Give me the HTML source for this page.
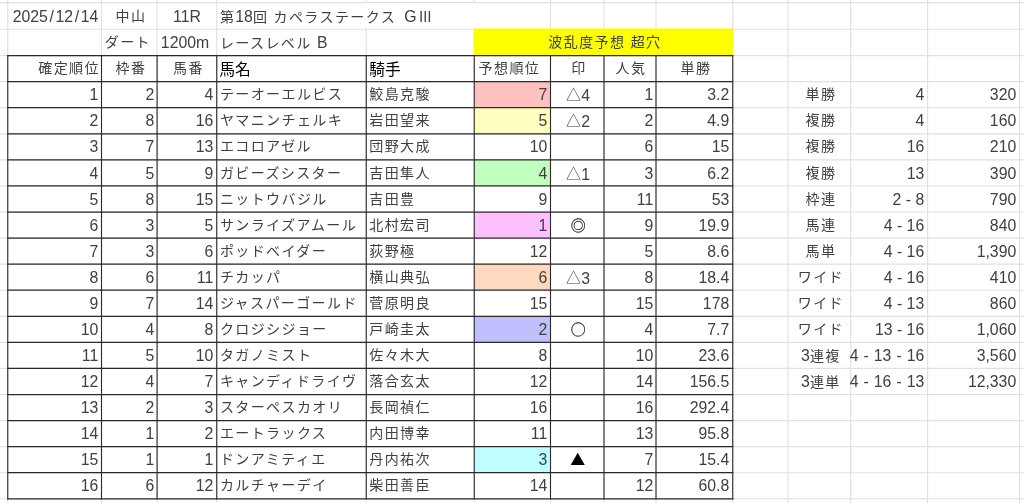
<!DOCTYPE html>
<html lang="ja"><head><meta charset="utf-8"><title>カペラステークス</title>
<style>
html,body{margin:0;padding:0;background:#fff;}
body{width:1024px;height:503px;position:relative;overflow:hidden;font-family:"Liberation Sans","Noto Sans CJK JP",sans-serif;font-size:15.8px;color:#404040;font-weight:400;}
.g{position:absolute;background:#e1e1e1;}
.b{position:absolute;background:#2a2a2a;}
.f{position:absolute;}
.c{position:absolute;white-space:nowrap;box-sizing:border-box;height:25px;line-height:25px;}
.r{text-align:right;padding-right:2.8px;}
.l{text-align:left;padding-left:2.9px;}
.m{text-align:center;}
.k{font-size:14px;letter-spacing:1.4px;}
.m.k{padding-left:2.8px;}
.r.k{padding-right:1.1px;}
.n{font-size:15.8px;letter-spacing:0;}
.j{font-family:"Noto Sans CJK JP","Liberation Sans",sans-serif;}
.big{color:#000;font-size:15.8px;letter-spacing:0;padding-left:2.2px;}
.s{padding:0 1.6px;}
.y{font-size:15px;letter-spacing:0.4px;position:relative;top:-1px;}
.t{-webkit-text-stroke:0.35px #404040;padding-left:1px;}
.w{font-feature-settings:"fwid";}
</style></head><body>

<svg class="f" style="left:0;top:0" width="1024" height="503" viewBox="0 0 1024 503"><g stroke="#e1e1e1" stroke-width="1.15"><line x1="7.75" y1="0" x2="7.75" y2="503"/><line x1="101.50" y1="0" x2="101.50" y2="503"/><line x1="157.10" y1="0" x2="157.10" y2="503"/><line x1="216.75" y1="0" x2="216.75" y2="503"/><line x1="366.25" y1="0" x2="366.25" y2="503"/><line x1="474.25" y1="0" x2="474.25" y2="503"/><line x1="550.50" y1="0" x2="550.50" y2="503"/><line x1="604.00" y1="0" x2="604.00" y2="503"/><line x1="656.00" y1="0" x2="656.00" y2="503"/><line x1="732.75" y1="0" x2="732.75" y2="503"/><line x1="788.00" y1="0" x2="788.00" y2="503"/><line x1="850.75" y1="0" x2="850.75" y2="503"/><line x1="927.60" y1="0" x2="927.60" y2="503"/><line x1="1019.50" y1="0" x2="1019.50" y2="503"/><line x1="0" y1="2.60" x2="1024" y2="2.60"/><line x1="0" y1="29.20" x2="1024" y2="29.20"/><line x1="0" y1="55.60" x2="1024" y2="55.60"/><line x1="0" y1="81.67" x2="1024" y2="81.67"/><line x1="0" y1="107.74" x2="1024" y2="107.74"/><line x1="0" y1="133.81" x2="1024" y2="133.81"/><line x1="0" y1="159.88" x2="1024" y2="159.88"/><line x1="0" y1="185.95" x2="1024" y2="185.95"/><line x1="0" y1="212.02" x2="1024" y2="212.02"/><line x1="0" y1="238.09" x2="1024" y2="238.09"/><line x1="0" y1="264.16" x2="1024" y2="264.16"/><line x1="0" y1="290.23" x2="1024" y2="290.23"/><line x1="0" y1="316.30" x2="1024" y2="316.30"/><line x1="0" y1="342.37" x2="1024" y2="342.37"/><line x1="0" y1="368.44" x2="1024" y2="368.44"/><line x1="0" y1="394.51" x2="1024" y2="394.51"/><line x1="0" y1="420.58" x2="1024" y2="420.58"/><line x1="0" y1="446.65" x2="1024" y2="446.65"/><line x1="0" y1="472.72" x2="1024" y2="472.72"/><line x1="0" y1="498.79" x2="1024" y2="498.79"/></g></svg>
<div class="f" style="left:365px;top:3px;width:111px;height:25px;background:#fff"></div>
<svg class="f" style="left:0;top:0" width="1024" height="503" viewBox="0 0 1024 503"><rect x="473.70" y="28.50" width="259.60" height="27.10" fill="#ffff00"/></svg>
<div class="f" style="left:474px;top:81px;width:76px;height:26px;background:#ffc0c0"></div>
<div class="f" style="left:474px;top:107px;width:76px;height:26px;background:#ffffc0"></div>
<div class="f" style="left:474px;top:159px;width:76px;height:26px;background:#c0ffc0"></div>
<div class="f" style="left:474px;top:212px;width:76px;height:26px;background:#ffc0ff"></div>
<div class="f" style="left:474px;top:264px;width:76px;height:26px;background:#ffd8c0"></div>
<div class="f" style="left:474px;top:316px;width:76px;height:26px;background:#c0c0ff"></div>
<div class="f" style="left:474px;top:446px;width:76px;height:26px;background:#c0ffff"></div>
<svg class="f" style="left:0;top:0" width="1024" height="503" viewBox="0 0 1024 503"><g stroke="#2a2a2a"><line stroke-width="1.1" x1="7.75" y1="55.00" x2="7.75" y2="499.39"/><line stroke-width="1.1" x1="101.50" y1="55.00" x2="101.50" y2="499.39"/><line stroke-width="1.1" x1="157.10" y1="55.00" x2="157.10" y2="499.39"/><line stroke-width="1.1" x1="216.75" y1="55.00" x2="216.75" y2="499.39"/><line stroke-width="1.1" x1="366.25" y1="55.00" x2="366.25" y2="499.39"/><line stroke-width="1.1" x1="474.25" y1="55.00" x2="474.25" y2="499.39"/><line stroke-width="1.1" x1="550.50" y1="55.00" x2="550.50" y2="499.39"/><line stroke-width="1.1" x1="604.00" y1="55.00" x2="604.00" y2="499.39"/><line stroke-width="1.1" x1="656.00" y1="55.00" x2="656.00" y2="499.39"/><line stroke-width="1.1" x1="732.75" y1="55.00" x2="732.75" y2="499.39"/><line stroke-width="1.25" x1="7.20" y1="55.60" x2="733.30" y2="55.60"/><line stroke-width="1.25" x1="7.20" y1="81.67" x2="733.30" y2="81.67"/><line stroke-width="1.25" x1="7.20" y1="107.74" x2="733.30" y2="107.74"/><line stroke-width="1.25" x1="7.20" y1="133.81" x2="733.30" y2="133.81"/><line stroke-width="1.25" x1="7.20" y1="159.88" x2="733.30" y2="159.88"/><line stroke-width="1.25" x1="7.20" y1="185.95" x2="733.30" y2="185.95"/><line stroke-width="1.25" x1="7.20" y1="212.02" x2="733.30" y2="212.02"/><line stroke-width="1.25" x1="7.20" y1="238.09" x2="733.30" y2="238.09"/><line stroke-width="1.25" x1="7.20" y1="264.16" x2="733.30" y2="264.16"/><line stroke-width="1.25" x1="7.20" y1="290.23" x2="733.30" y2="290.23"/><line stroke-width="1.25" x1="7.20" y1="316.30" x2="733.30" y2="316.30"/><line stroke-width="1.25" x1="7.20" y1="342.37" x2="733.30" y2="342.37"/><line stroke-width="1.25" x1="7.20" y1="368.44" x2="733.30" y2="368.44"/><line stroke-width="1.25" x1="7.20" y1="394.51" x2="733.30" y2="394.51"/><line stroke-width="1.25" x1="7.20" y1="420.58" x2="733.30" y2="420.58"/><line stroke-width="1.25" x1="7.20" y1="446.65" x2="733.30" y2="446.65"/><line stroke-width="1.25" x1="7.20" y1="472.72" x2="733.30" y2="472.72"/><line stroke-width="1.25" x1="7.20" y1="498.79" x2="733.30" y2="498.79"/></g></svg>
<div class="c r" style="left:8.0px;top:4px;width:93px;">2025<span class="s">/</span>12<span class="s">/</span>14</div>
<div class="c m k" style="left:102.0px;top:4px;width:55px;">中山</div>
<div class="c m" style="left:158.0px;top:4px;width:58px;">11R</div>
<div class="c l k" style="left:217.0px;top:4px;width:149px;">第<span class="n">18</span>回 カペラステークス <span class="n" style="margin-left:3px">G</span><span class="j" style="margin-left:1.5px">Ⅲ</span></div>
<div class="c m k" style="left:99.0px;top:30px;width:55px;">ダート</div>
<div class="c m" style="left:156.0px;top:30px;width:58px;">1200m</div>
<div class="c l k" style="left:217.0px;top:30px;width:149px;">レースレベル <span class="n">B</span></div>
<div class="c m k" style="left:475.0px;top:30px;width:257px;">波乱度予想 超穴</div>
<div class="c r k" style="left:8.0px;top:56px;width:93px;">確定順位</div>
<div class="c m k" style="left:102.0px;top:56px;width:55px;">枠番</div>
<div class="c m k" style="left:158.0px;top:56px;width:58px;">馬番</div>
<div class="c l big" style="left:217.0px;top:57px;width:149px;">馬名</div>
<div class="c l big" style="left:367.0px;top:57px;width:107px;">騎手</div>
<div class="c m k" style="left:470.5px;top:56px;width:75px;">予想順位</div>
<div class="c m k" style="left:551.0px;top:56px;width:53px;">印</div>
<div class="c m k" style="left:604.0px;top:56px;width:51px;">人気</div>
<div class="c m k" style="left:657.0px;top:56px;width:75px;">単勝</div>
<div class="c r" style="left:8.0px;top:82px;width:93px;">1</div>
<div class="c r" style="left:102.0px;top:82px;width:55px;">2</div>
<div class="c r" style="left:158.0px;top:82px;width:58px;">4</div>
<div class="c l k" style="left:217.0px;top:82px;width:149px;">テーオーエルビス</div>
<div class="c l k" style="left:366.4px;top:82px;width:107px;">鮫島克駿</div>
<div class="c r" style="left:475.0px;top:82px;width:75px;">7</div>
<div class="c m" style="left:551.5px;top:82px;width:53px;"><span class="j y">△</span><span class="n">4</span></div>
<div class="c r" style="left:605.0px;top:82px;width:51px;">1</div>
<div class="c r" style="left:657.0px;top:82px;width:75px;">3.2</div>
<div class="c r" style="left:8.0px;top:108px;width:93px;">2</div>
<div class="c r" style="left:102.0px;top:108px;width:55px;">8</div>
<div class="c r" style="left:158.0px;top:108px;width:58px;">16</div>
<div class="c l k" style="left:217.0px;top:108px;width:149px;">ヤマニンチェルキ</div>
<div class="c l k" style="left:366.4px;top:108px;width:107px;">岩田望来</div>
<div class="c r" style="left:475.0px;top:108px;width:75px;">5</div>
<div class="c m" style="left:551.5px;top:108px;width:53px;"><span class="j y">△</span><span class="n">2</span></div>
<div class="c r" style="left:605.0px;top:108px;width:51px;">2</div>
<div class="c r" style="left:657.0px;top:108px;width:75px;">4.9</div>
<div class="c r" style="left:8.0px;top:134px;width:93px;">3</div>
<div class="c r" style="left:102.0px;top:134px;width:55px;">7</div>
<div class="c r" style="left:158.0px;top:134px;width:58px;">13</div>
<div class="c l k" style="left:217.0px;top:134px;width:149px;">エコロアゼル</div>
<div class="c l k" style="left:366.4px;top:134px;width:107px;">団野大成</div>
<div class="c r" style="left:475.0px;top:134px;width:75px;">10</div>
<div class="c r" style="left:605.0px;top:134px;width:51px;">6</div>
<div class="c r" style="left:657.0px;top:134px;width:75px;">15</div>
<div class="c r" style="left:8.0px;top:161px;width:93px;">4</div>
<div class="c r" style="left:102.0px;top:161px;width:55px;">5</div>
<div class="c r" style="left:158.0px;top:161px;width:58px;">9</div>
<div class="c l k" style="left:217.0px;top:161px;width:149px;">ガビーズシスター</div>
<div class="c l k" style="left:366.4px;top:161px;width:107px;">吉田隼人</div>
<div class="c r" style="left:475.0px;top:161px;width:75px;">4</div>
<div class="c m" style="left:551.5px;top:161px;width:53px;"><span class="j y">△</span><span class="n">1</span></div>
<div class="c r" style="left:605.0px;top:161px;width:51px;">3</div>
<div class="c r" style="left:657.0px;top:161px;width:75px;">6.2</div>
<div class="c r" style="left:8.0px;top:187px;width:93px;">5</div>
<div class="c r" style="left:102.0px;top:187px;width:55px;">8</div>
<div class="c r" style="left:158.0px;top:187px;width:58px;">15</div>
<div class="c l k" style="left:217.0px;top:187px;width:149px;">ニットウバジル</div>
<div class="c l k" style="left:366.4px;top:187px;width:107px;">吉田豊</div>
<div class="c r" style="left:475.0px;top:187px;width:75px;">9</div>
<div class="c r" style="left:605.0px;top:187px;width:51px;">11</div>
<div class="c r" style="left:657.0px;top:187px;width:75px;">53</div>
<div class="c r" style="left:8.0px;top:213px;width:93px;">6</div>
<div class="c r" style="left:102.0px;top:213px;width:55px;">3</div>
<div class="c r" style="left:158.0px;top:213px;width:58px;">5</div>
<div class="c l k" style="left:217.0px;top:213px;width:149px;">サンライズアムール</div>
<div class="c l k" style="left:366.4px;top:213px;width:107px;">北村宏司</div>
<div class="c r" style="left:475.0px;top:213px;width:75px;">1</div>
<div class="c m" style="left:551.5px;top:213px;width:53px;"><span class="j y t">◎</span></div>
<div class="c r" style="left:605.0px;top:213px;width:51px;">9</div>
<div class="c r" style="left:657.0px;top:213px;width:75px;">19.9</div>
<div class="c r" style="left:8.0px;top:239px;width:93px;">7</div>
<div class="c r" style="left:102.0px;top:239px;width:55px;">3</div>
<div class="c r" style="left:158.0px;top:239px;width:58px;">6</div>
<div class="c l k" style="left:217.0px;top:239px;width:149px;">ポッドベイダー</div>
<div class="c l k" style="left:366.4px;top:239px;width:107px;">荻野極</div>
<div class="c r" style="left:475.0px;top:239px;width:75px;">12</div>
<div class="c r" style="left:605.0px;top:239px;width:51px;">5</div>
<div class="c r" style="left:657.0px;top:239px;width:75px;">8.6</div>
<div class="c r" style="left:8.0px;top:265px;width:93px;">8</div>
<div class="c r" style="left:102.0px;top:265px;width:55px;">6</div>
<div class="c r" style="left:158.0px;top:265px;width:58px;">11</div>
<div class="c l k" style="left:217.0px;top:265px;width:149px;">チカッパ</div>
<div class="c l k" style="left:366.4px;top:265px;width:107px;">横山典弘</div>
<div class="c r" style="left:475.0px;top:265px;width:75px;">6</div>
<div class="c m" style="left:551.5px;top:265px;width:53px;"><span class="j y">△</span><span class="n">3</span></div>
<div class="c r" style="left:605.0px;top:265px;width:51px;">8</div>
<div class="c r" style="left:657.0px;top:265px;width:75px;">18.4</div>
<div class="c r" style="left:8.0px;top:291px;width:93px;">9</div>
<div class="c r" style="left:102.0px;top:291px;width:55px;">7</div>
<div class="c r" style="left:158.0px;top:291px;width:58px;">14</div>
<div class="c l k" style="left:217.0px;top:291px;width:149px;">ジャスパーゴールド</div>
<div class="c l k" style="left:366.4px;top:291px;width:107px;">菅原明良</div>
<div class="c r" style="left:475.0px;top:291px;width:75px;">15</div>
<div class="c r" style="left:605.0px;top:291px;width:51px;">15</div>
<div class="c r" style="left:657.0px;top:291px;width:75px;">178</div>
<div class="c r" style="left:8.0px;top:317px;width:93px;">10</div>
<div class="c r" style="left:102.0px;top:317px;width:55px;">4</div>
<div class="c r" style="left:158.0px;top:317px;width:58px;">8</div>
<div class="c l k" style="left:217.0px;top:317px;width:149px;">クロジシジョー</div>
<div class="c l k" style="left:366.4px;top:317px;width:107px;">戸崎圭太</div>
<div class="c r" style="left:475.0px;top:317px;width:75px;">2</div>
<div class="c m" style="left:551.5px;top:317px;width:53px;"><span class="j y t">○</span></div>
<div class="c r" style="left:605.0px;top:317px;width:51px;">4</div>
<div class="c r" style="left:657.0px;top:317px;width:75px;">7.7</div>
<div class="c r" style="left:8.0px;top:343px;width:93px;">11</div>
<div class="c r" style="left:102.0px;top:343px;width:55px;">5</div>
<div class="c r" style="left:158.0px;top:343px;width:58px;">10</div>
<div class="c l k" style="left:217.0px;top:343px;width:149px;">タガノミスト</div>
<div class="c l k" style="left:366.4px;top:343px;width:107px;">佐々木大</div>
<div class="c r" style="left:475.0px;top:343px;width:75px;">8</div>
<div class="c r" style="left:605.0px;top:343px;width:51px;">10</div>
<div class="c r" style="left:657.0px;top:343px;width:75px;">23.6</div>
<div class="c r" style="left:8.0px;top:369px;width:93px;">12</div>
<div class="c r" style="left:102.0px;top:369px;width:55px;">4</div>
<div class="c r" style="left:158.0px;top:369px;width:58px;">7</div>
<div class="c l k" style="left:217.0px;top:369px;width:149px;">キャンディドライヴ</div>
<div class="c l k" style="left:366.4px;top:369px;width:107px;">落合玄太</div>
<div class="c r" style="left:475.0px;top:369px;width:75px;">12</div>
<div class="c r" style="left:605.0px;top:369px;width:51px;">14</div>
<div class="c r" style="left:657.0px;top:369px;width:75px;">156.5</div>
<div class="c r" style="left:8.0px;top:395px;width:93px;">13</div>
<div class="c r" style="left:102.0px;top:395px;width:55px;">2</div>
<div class="c r" style="left:158.0px;top:395px;width:58px;">3</div>
<div class="c l k" style="left:217.0px;top:395px;width:149px;">スターペスカオリ</div>
<div class="c l k" style="left:366.4px;top:395px;width:107px;">長岡禎仁</div>
<div class="c r" style="left:475.0px;top:395px;width:75px;">16</div>
<div class="c r" style="left:605.0px;top:395px;width:51px;">16</div>
<div class="c r" style="left:657.0px;top:395px;width:75px;">292.4</div>
<div class="c r" style="left:8.0px;top:421px;width:93px;">14</div>
<div class="c r" style="left:102.0px;top:421px;width:55px;">1</div>
<div class="c r" style="left:158.0px;top:421px;width:58px;">2</div>
<div class="c l k" style="left:217.0px;top:421px;width:149px;">エートラックス</div>
<div class="c l k" style="left:366.4px;top:421px;width:107px;">内田博幸</div>
<div class="c r" style="left:475.0px;top:421px;width:75px;">11</div>
<div class="c r" style="left:605.0px;top:421px;width:51px;">13</div>
<div class="c r" style="left:657.0px;top:421px;width:75px;">95.8</div>
<div class="c r" style="left:8.0px;top:447px;width:93px;">15</div>
<div class="c r" style="left:102.0px;top:447px;width:55px;">1</div>
<div class="c r" style="left:158.0px;top:447px;width:58px;">1</div>
<div class="c l k" style="left:217.0px;top:447px;width:149px;">ドンアミティエ</div>
<div class="c l k" style="left:366.4px;top:447px;width:107px;">丹内祐次</div>
<div class="c r" style="left:475.0px;top:447px;width:75px;">3</div>
<div class="c m" style="left:551.5px;top:447px;width:53px;"><span class="j y" style="color:#000">▲</span></div>
<div class="c r" style="left:605.0px;top:447px;width:51px;">7</div>
<div class="c r" style="left:657.0px;top:447px;width:75px;">15.4</div>
<div class="c r" style="left:8.0px;top:473px;width:93px;">16</div>
<div class="c r" style="left:102.0px;top:473px;width:55px;">6</div>
<div class="c r" style="left:158.0px;top:473px;width:58px;">12</div>
<div class="c l k" style="left:217.0px;top:473px;width:149px;">カルチャーデイ</div>
<div class="c l k" style="left:366.4px;top:473px;width:107px;">柴田善臣</div>
<div class="c r" style="left:475.0px;top:473px;width:75px;">14</div>
<div class="c r" style="left:605.0px;top:473px;width:51px;">12</div>
<div class="c r" style="left:657.0px;top:473px;width:75px;">60.8</div>
<div class="c m k" style="left:789.0px;top:82px;width:61px;">単勝</div>
<div class="c r" style="left:851.0px;top:82px;width:76px;">4</div>
<div class="c r" style="left:928.0px;top:82px;width:91px;">320</div>
<div class="c m k" style="left:789.0px;top:108px;width:61px;">複勝</div>
<div class="c r" style="left:851.0px;top:108px;width:76px;">4</div>
<div class="c r" style="left:928.0px;top:108px;width:91px;">160</div>
<div class="c m k" style="left:789.0px;top:134px;width:61px;">複勝</div>
<div class="c r" style="left:851.0px;top:134px;width:76px;">16</div>
<div class="c r" style="left:928.0px;top:134px;width:91px;">210</div>
<div class="c m k" style="left:789.0px;top:161px;width:61px;">複勝</div>
<div class="c r" style="left:851.0px;top:161px;width:76px;">13</div>
<div class="c r" style="left:928.0px;top:161px;width:91px;">390</div>
<div class="c m k" style="left:789.0px;top:187px;width:61px;">枠連</div>
<div class="c r" style="left:851.0px;top:187px;width:76px;">2 - 8</div>
<div class="c r" style="left:928.0px;top:187px;width:91px;">790</div>
<div class="c m k" style="left:789.0px;top:213px;width:61px;">馬連</div>
<div class="c r" style="left:851.0px;top:213px;width:76px;">4 - 16</div>
<div class="c r" style="left:928.0px;top:213px;width:91px;">840</div>
<div class="c m k" style="left:789.0px;top:239px;width:61px;">馬単</div>
<div class="c r" style="left:851.0px;top:239px;width:76px;">4 - 16</div>
<div class="c r" style="left:928.0px;top:239px;width:91px;">1,390</div>
<div class="c m k" style="left:789.0px;top:265px;width:61px;">ワイド</div>
<div class="c r" style="left:851.0px;top:265px;width:76px;">4 - 16</div>
<div class="c r" style="left:928.0px;top:265px;width:91px;">410</div>
<div class="c m k" style="left:789.0px;top:291px;width:61px;">ワイド</div>
<div class="c r" style="left:851.0px;top:291px;width:76px;">4 - 13</div>
<div class="c r" style="left:928.0px;top:291px;width:91px;">860</div>
<div class="c m k" style="left:789.0px;top:317px;width:61px;">ワイド</div>
<div class="c r" style="left:851.0px;top:317px;width:76px;">13 - 16</div>
<div class="c r" style="left:928.0px;top:317px;width:91px;">1,060</div>
<div class="c m k" style="left:789.0px;top:343px;width:61px;"><span class="n">3</span>連複</div>
<div class="c r" style="left:851.0px;top:343px;width:76px;margin-left:-12px;padding-left:0;word-spacing:0.6px;width:88px;">4 - 13 - 16</div>
<div class="c r" style="left:928.0px;top:343px;width:91px;">3,560</div>
<div class="c m k" style="left:789.0px;top:369px;width:61px;"><span class="n">3</span>連単</div>
<div class="c r" style="left:851.0px;top:369px;width:76px;margin-left:-12px;padding-left:0;word-spacing:0.6px;width:88px;">4 - 16 - 13</div>
<div class="c r" style="left:928.0px;top:369px;width:91px;">12,330</div>
</body></html>
